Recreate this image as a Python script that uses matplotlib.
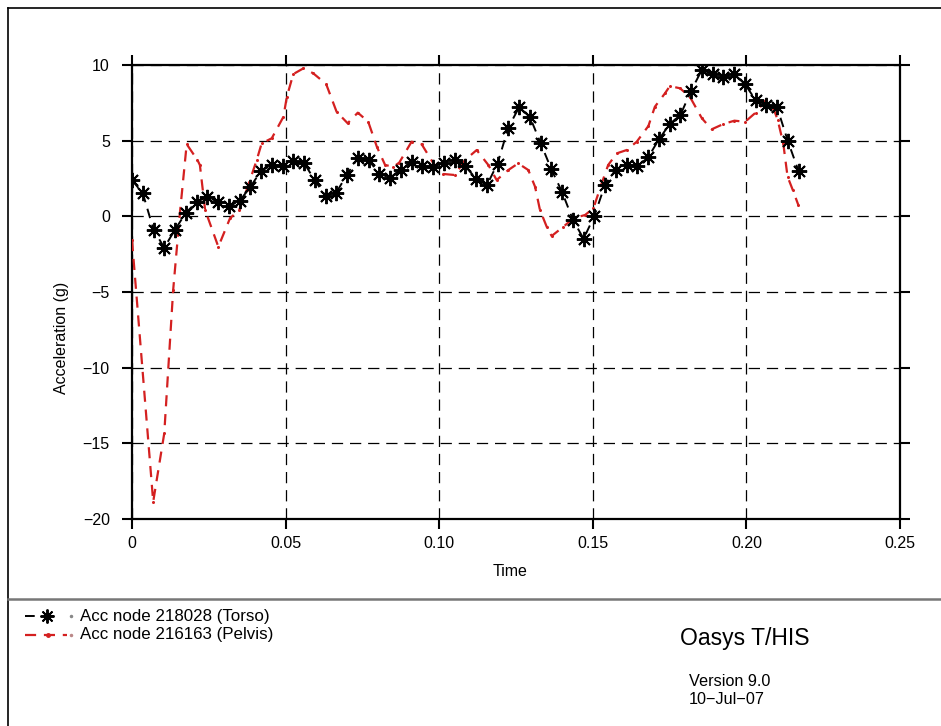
import matplotlib
matplotlib.use("Agg")
import matplotlib.pyplot as plt
from matplotlib.lines import Line2D

plt.rcParams['font.family'] = ['Liberation Sans', 'DejaVu Sans']

# ---------------- data ----------------
torso_t = [0.0000, 0.0035, 0.0070, 0.0105, 0.0140, 0.0175, 0.0210, 0.0245, 0.0280, 0.0315,
           0.0350, 0.0385, 0.0420, 0.0455, 0.0490, 0.0525, 0.0560, 0.0595, 0.0630, 0.0665,
           0.0700, 0.0735, 0.0770, 0.0805, 0.0840, 0.0875, 0.0910, 0.0945, 0.0980, 0.1015,
           0.1050, 0.1085, 0.1120, 0.1155, 0.1190, 0.1225, 0.1260, 0.1295, 0.1330, 0.1365,
           0.1400, 0.1435, 0.1470, 0.1505, 0.1540, 0.1575, 0.1610, 0.1645, 0.1680, 0.1715,
           0.1750, 0.1785, 0.1820, 0.1855, 0.1890, 0.1925, 0.1960, 0.1995, 0.2030, 0.2065,
           0.2100, 0.2135, 0.2170]
torso_acc = [2.38, 1.54, -0.88, -2.07, -0.88, 0.22, 0.95, 1.28, 0.95, 0.66,
             1.01, 1.94, 3.00, 3.38, 3.33, 3.64, 3.53, 2.38, 1.34, 1.57,
             2.76, 3.86, 3.71, 2.83, 2.54, 3.09, 3.60, 3.31, 3.27, 3.53,
             3.71, 3.31, 2.49, 2.05, 3.49, 5.87, 7.20, 6.58, 4.85, 3.11,
             1.61, -0.22, -1.48, 0.02, 2.10, 3.09, 3.42, 3.31, 3.89, 5.08,
             6.09, 6.69, 8.30, 9.67, 9.40, 9.18, 9.40, 8.74, 7.68, 7.35,
             7.20, 4.97, 2.98]

pelvis_t = [0.0000, 0.0069, 0.0105, 0.0134, 0.0156, 0.0178, 0.0213, 0.0221, 0.0238, 0.0281,
            0.0319, 0.0349, 0.0373, 0.0406, 0.0422, 0.0455, 0.0493, 0.0504, 0.0525, 0.0558,
            0.0590, 0.0632, 0.0666, 0.0702, 0.0735, 0.0769, 0.0797, 0.0824, 0.0851, 0.0870,
            0.0910, 0.0943, 0.0981, 0.1013, 0.1051, 0.1084, 0.1122, 0.1160, 0.1187, 0.1225,
            0.1257, 0.1290, 0.1312, 0.1328, 0.1350, 0.1366, 0.1404, 0.1437, 0.1475, 0.1502,
            0.1529, 0.1550, 0.1578, 0.1610, 0.1643, 0.1681, 0.1702, 0.1735, 0.1751, 0.1784,
            0.1816, 0.1855, 0.1887, 0.1925, 0.1961, 0.1996, 0.2030, 0.2064, 0.2088, 0.2102,
            0.2120, 0.2134, 0.2151, 0.2169]
pelvis_acc = [-1.57, -18.86, -14.34, -4.87, 0.22, 4.77, 3.72, 3.39, 0.42, -2.01,
              -0.13, 0.42, 1.74, 3.72, 4.82, 5.16, 6.58, 7.90, 9.40, 9.78,
              9.45, 8.74, 6.91, 6.15, 6.85, 6.25, 4.60, 3.39, 3.28, 3.55,
              4.93, 4.76, 3.50, 2.80, 2.73, 3.72, 4.38, 3.39, 2.40, 3.06,
              3.50, 3.06, 1.96, 0.42, -0.69, -1.30, -0.69, -0.13, 0.09, 0.53,
              2.18, 3.39, 4.16, 4.38, 4.93, 5.97, 7.24, 8.13, 8.61, 8.46,
              7.90, 6.48, 5.75, 6.10, 6.32, 6.25, 6.85, 7.69, 7.14, 6.36,
              4.82, 2.62, 1.74, 0.75]

x_ticks = [0, 0.05, 0.10, 0.15, 0.20, 0.25]
x_ticklabels = ['0', '0.05', '0.10', '0.15', '0.20', '0.25']
y_ticks = [-20, -15, -10, -5, 0, 5, 10]
y_ticklabels = ['\u221220', '\u221215', '\u221210', '\u22125', '0', '5', '10']

label_torso = 'Acc node 218028 (Torso)'
label_pelvis = 'Acc node 216163 (Pelvis)'

# ---------------- figure ----------------
W, H = 941, 726
fig = plt.figure(figsize=(W / 100, H / 100), dpi=100)

def fx(px):
    return px / W

def fy(py):
    return 1 - py / H

ax = fig.add_axes([fx(132), fy(519), fx(900) - fx(132), fy(65) - fy(519)])
ax.set_xlim(0, 0.25)
ax.set_ylim(-20, 10)

red = '#d42020'
ax.plot(pelvis_t, pelvis_acc, color=red, lw=1.6, linestyle=(0, (5, 3.5)),
        marker='o', markersize=2.2, markeredgewidth=0, markerfacecolor=red, zorder=3)
ax.plot(torso_t, torso_acc, color='black', lw=1.4, linestyle=(0, (5, 3.5)),
        marker=(8, 2, 0), markersize=11, markeredgewidth=1.4, markeredgecolor='black',
        zorder=4)

ax.set_xticks(x_ticks)
ax.set_xticklabels(x_ticklabels)
ax.set_yticks(y_ticks)
ax.set_yticklabels(y_ticklabels)
ax.grid(True, color='black', lw=0.9, linestyle=(0, (9, 5.5)))
ax.tick_params(axis='both', which='both', direction='out', length=7, width=1.5,
               labelsize=11.5, top=True, right=True, labeltop=False, labelright=False)
ax.tick_params(axis='y', pad=9)
ax.tick_params(axis='x', pad=5)
for s in ax.spines.values():
    s.set_linewidth(1.6)

fig.text(fx(510), fy(571), 'Time', ha='center', va='center', fontsize=11.5)
fig.text(fx(62), fy(338), 'Acceleration (g)', ha='center', va='center',
         rotation=90, fontsize=11.5)

# frame lines
fig.add_artist(Line2D([fx(8), 1], [fy(8), fy(8)], color='black', lw=1.2))
fig.add_artist(Line2D([fx(8), fx(8)], [fy(8), 0], color='black', lw=1.2))
fig.add_artist(Line2D([fx(8), 1], [fy(599), fy(599)], color='#777777', lw=1.8))

# legend
ly1, ly2 = 616, 635
fig.add_artist(Line2D([fx(25), fx(62)], [fy(ly1), fy(ly1)], color='black', lw=1.4,
                      linestyle=(0, (5, 5))))
fig.add_artist(Line2D([fx(47)], [fy(ly1)], color='black', marker=(8, 2, 0),
                      markersize=10, markeredgewidth=1.4, linestyle='none'))
fig.add_artist(Line2D([fx(71)], [fy(ly1)], color='#888888', marker='o',
                      markersize=1.5, linestyle='none'))
fig.add_artist(Line2D([fx(25), fx(67)], [fy(ly2), fy(ly2)], color=red, lw=1.6,
                      linestyle=(0, (5, 3.5))))
fig.add_artist(Line2D([fx(48)], [fy(ly2)], color=red, marker='o',
                      markersize=2.5, linestyle='none'))
fig.add_artist(Line2D([fx(71)], [fy(ly2)], color='#bb8888', marker='o',
                      markersize=1.5, linestyle='none'))
fig.text(fx(80), fy(ly1), label_torso, ha='left', va='center', fontsize=12.2)
fig.text(fx(80), fy(ly2), label_pelvis, ha='left', va='center', fontsize=12.2)

fig.text(fx(680), fy(638), 'Oasys T/HIS', ha='left', va='center', fontsize=16.5)
fig.text(fx(689), fy(681), 'Version 9.0', ha='left', va='center', fontsize=11.7)
fig.text(fx(689), fy(700), '10\u2212Jul\u221207', ha='left', va='center', fontsize=11.7)

fig.savefig('out.png', dpi=100)
